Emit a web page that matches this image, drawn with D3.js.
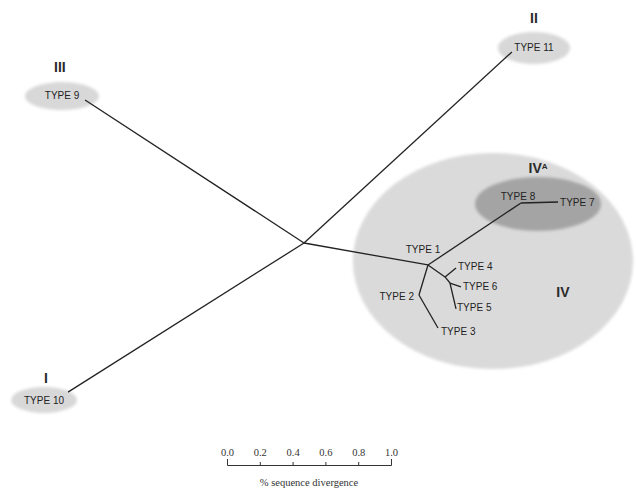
<!DOCTYPE html>
<html>
<head>
<meta charset="utf-8">
<script src="https://d3js.org/d3.v7.min.js"></script>
<style>
  body { margin: 0; background: #fff; }
  .scale path, .scale line { stroke: #333; }
  .scale text { font-family: "Liberation Serif", serif; font-size: 10.5px; fill: #333; }
</style>
</head>
<body>
<script type="text/javascript">

  // tree nodes, position in % sequence divergence from the central node
  var nodeIds   = ["c", "t9", "t10", "t11", "t1", "t8", "t7", "t2", "t3", "n4", "t4", "n6", "t6", "t5"];
  var nodeParent = [null, "c", "c", "c", "c", "t1", "t8", "t1", "t2", "t1", "n4", "n4", "n6", "n6"];
  var nodeX     = [0, -1.335, -1.439, 1.268, 0.756, 1.323, 1.549, 0.701, 0.817, 0.860, 0.927, 0.890, 0.957, 0.927];
  var nodeY     = [0, 0.872, -0.909, 1.165, -0.134, 0.244, 0.250, -0.317, -0.518, -0.207, -0.152, -0.244, -0.268, -0.402];
  var nodeLabel = ["", "TYPE 9", "TYPE 10", "TYPE 11", "TYPE 1", "TYPE 8", "TYPE 7", "TYPE 2", "TYPE 3", "", "TYPE 4", "", "TYPE 6", "TYPE 5"];

  // groups (ellipses), same units
  var groupNames = ["IV", "IVA", "III", "II", "I"];
  var groupCx    = [1.152, 1.427, -1.476, 1.402, -1.585];
  var groupCy    = [-0.110, 0.238, 0.896, 1.189, -0.957];
  var groupRx    = [0.854, 0.384, 0.226, 0.220, 0.201];
  var groupRy    = [0.659, 0.165, 0.085, 0.098, 0.079];

  var scaleTicks = [0, 0.2, 0.4, 0.6, 0.8, 1.0];

  var w = 636, h = 488;
  var unit = 164; // px per 1% divergence (length of scale bar)

  var svg = d3.select("body").append("svg")
      .attr("width", w)
      .attr("height", h);

  var x = d3.scaleLinear().domain([0, 1]).range([304, 304 + unit]);
  var y = d3.scaleLinear().domain([0, 1]).range([243, 243 - unit]);

  var defs = svg.append("defs");
  defs.append("filter").attr("id", "soft")
      .attr("x", "-20%").attr("y", "-20%").attr("width", "140%").attr("height", "140%")
    .append("feGaussianBlur").attr("stdDeviation", 1.6);

  // label layout (px offsets from the node)
  var labelLayout = {
    t9:  {dx: -23, dy: -4, anchor: "middle"},
    t10: {dx: -24, dy: 8, anchor: "middle"},
    t11: {dx: 22, dy: -4, anchor: "middle"},
    t1:  {dx: -5, dy: -15, anchor: "middle"},
    t8:  {dx: -3, dy: -6, anchor: "middle"},
    t7:  {dx: 2, dy: 0, anchor: "start"},
    t2:  {dx: -5, dy: 2, anchor: "end"},
    t3:  {dx: 3, dy: 4, anchor: "start"},
    t4:  {dx: 2, dy: -1, anchor: "start"},
    t6:  {dx: 2, dy: 0, anchor: "start"},
    t5:  {dx: 1, dy: -1, anchor: "start"}
  };
  var groupLayout = {
    IV:  {fill: "#dadada", dx: 70, dy: 31},
    IVA: {fill: "#a4a4a4", dx: 0, dy: -36},
    III: {fill: "#d8d8d8", dx: -2, dy: -29},
    II:  {fill: "#d8d8d8", dx: 0, dy: -30},
    I:   {fill: "#d8d8d8", dx: 2, dy: -22}
  };

  var groups = groupNames.map(function(n, i) {
    return {name: n, cx: groupCx[i], cy: groupCy[i], rx: groupRx[i], ry: groupRy[i]};
  });

  svg.append("g").selectAll("ellipse")
      .data(groups)
      .enter().append("ellipse")
      .attr("cx", function(d) { return x(d.cx); })
      .attr("cy", function(d) { return y(d.cy); })
      .attr("rx", function(d) { return x(d.rx) - x(0); })
      .attr("ry", function(d) { return x(d.ry) - x(0); })
      .attr("fill", function(d) { return groupLayout[d.name].fill; })
      .attr("filter", "url(#soft)");

  var gl = svg.append("g").selectAll("text")
      .data(groups)
      .enter().append("text")
      .attr("x", function(d) { return x(d.cx) + groupLayout[d.name].dx; })
      .attr("y", function(d) { return y(d.cy) + groupLayout[d.name].dy; })
      .attr("dy", "0.35em")
      .attr("text-anchor", "middle")
      .attr("font-family", "Liberation Sans, Arial, sans-serif")
      .attr("font-size", 14)
      .attr("font-weight", "bold")
      .attr("fill", "#2a2a2a")
      .text(function(d) { return d.name == "IVA" ? "IV" : d.name; });
  gl.filter(function(d) { return d.name == "IVA"; })
    .append("tspan")
      .attr("font-size", 8)
      .attr("dy", "-0.5em")
      .text("A");

  // branches
  var nodes = nodeIds.map(function(id, i) {
    return {id: id, parent: nodeParent[i], x: nodeX[i], y: nodeY[i], label: nodeLabel[i]};
  });
  var byId = {};
  nodes.forEach(function(d) { byId[d.id] = d; });

  svg.append("g").selectAll("line")
      .data(nodes.filter(function(d) { return d.parent; }))
      .enter().append("line")
      .attr("x1", function(d) { return x(byId[d.parent].x); })
      .attr("y1", function(d) { return y(byId[d.parent].y); })
      .attr("x2", function(d) { return x(d.x); })
      .attr("y2", function(d) { return y(d.y); })
      .attr("stroke", "#222")
      .attr("stroke-width", 1.3);

  svg.append("g").selectAll("text")
      .data(nodes.filter(function(d) { return d.label; }))
      .enter().append("text")
      .attr("x", function(d) { return x(d.x) + labelLayout[d.id].dx; })
      .attr("y", function(d) { return y(d.y) + labelLayout[d.id].dy; })
      .attr("dy", "0.35em")
      .attr("text-anchor", function(d) { return labelLayout[d.id].anchor; })
      .attr("font-family", "Liberation Sans, Arial, sans-serif")
      .attr("font-size", 10)
      .attr("fill", "#222")
      .text(function(d) { return d.label; });

  // scale bar
  var s = d3.scaleLinear().domain([0, 1]).range([227, 227 + unit]);
  svg.append("g")
      .attr("class", "scale")
      .attr("transform", "translate(0,465)")
      .call(d3.axisTop(s).tickValues(scaleTicks).tickFormat(d3.format(".1f"))
              .tickSize(3).tickSizeOuter(6).tickPadding(6));

  svg.append("text")
      .attr("x", s(0.5))
      .attr("y", 482)
      .attr("dy", "0.35em")
      .attr("text-anchor", "middle")
      .attr("font-family", "Liberation Serif, serif")
      .attr("font-size", 10.5)
      .attr("fill", "#333")
      .text("% sequence divergence");

</script>
</body>
</html>
